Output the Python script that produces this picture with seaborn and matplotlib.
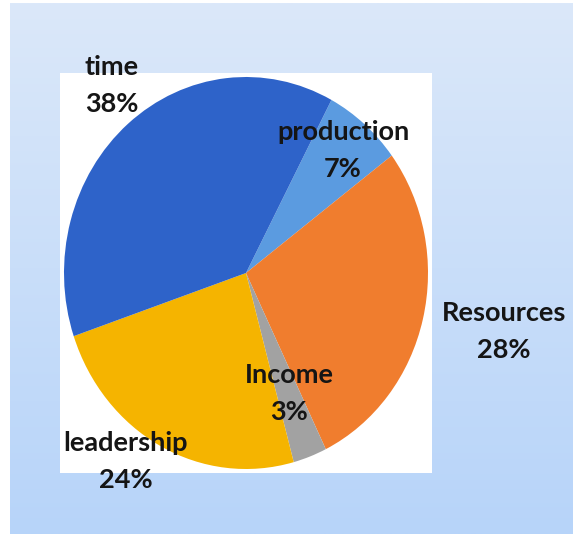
import numpy as np
import matplotlib
matplotlib.use("Agg")
import matplotlib.pyplot as plt
from matplotlib.patches import Rectangle
from matplotlib.colors import LinearSegmentedColormap
import seaborn as sns

# slice data (clockwise from the top right)
labels = ["production", "Resources", "Income", "leadership", "time"]
shares = [7, 28, 3, 24, 38]
colors = ["#5b9be0", "#f07d2e", "#a2a2a2", "#f5b400", "#2e63c9"]
# label placement: distance from centre (radii) and angular nudge (deg)
label_dist = [0.82, 1.45, 0.66, 1.17, 1.21]
label_turn = [0, 1.7, 0.6, -6.5, -2.7]

sns.set_theme(style="white")
plt.rcParams['font.family'] = ['Lato', 'DejaVu Sans']

fig = plt.figure(figsize=(5.76, 5.37), dpi=100)
fig.patch.set_facecolor("white")

# blue gradient panel behind everything
bg = fig.add_axes([10 / 576, 3 / 537, 563 / 576, 531 / 537])
grad = LinearSegmentedColormap.from_list("bg", ["#dbe8fa", "#b7d4f9"])
bg.imshow(np.linspace(0, 1, 256).reshape(-1, 1), aspect="auto", cmap=grad)
bg.set_axis_off()

ax = fig.add_axes([0, 0, 1, 1])
ax.patch.set_alpha(0)

# white square behind the pie
ax.add_patch(Rectangle((-1.02, -1.02), 2.04, 2.04, facecolor="white",
                       edgecolor="none", zorder=0))

wedges, _ = ax.pie(shares, colors=colors, startangle=62, counterclock=False,
                   wedgeprops=dict(linewidth=0))

for w, lab, pct, d, t in zip(wedges, labels, shares, label_dist, label_turn):
    mid = np.deg2rad((w.theta1 + w.theta2) / 2 + t)
    ax.text(d * np.cos(mid), d * np.sin(mid), f"{lab}\n{pct}%",
            ha="center", va="center", fontsize=19.5, fontweight="bold",
            color="#151515", linespacing=1.65, zorder=5)

# map the unit circle to the pixel box of the original (slightly tall ellipse)
ax.set_aspect("auto")
ax.set_xlim(-246 / 182, (576 - 246) / 182)
ax.set_ylim(-(537 - 273) / 196, 273 / 196)
ax.set_axis_off()

fig.savefig("out.png", dpi=100)
